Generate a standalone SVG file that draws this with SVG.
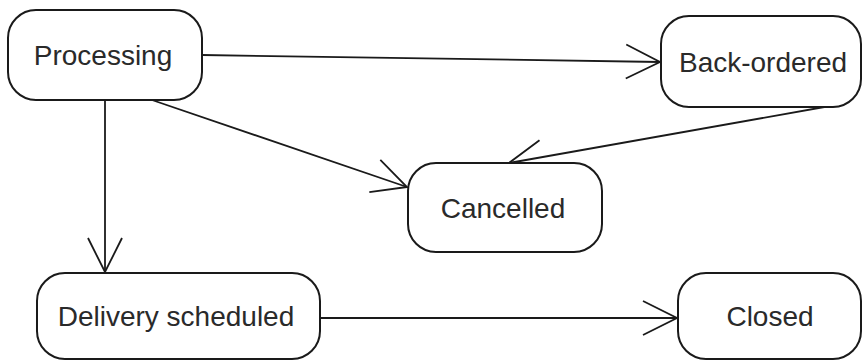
<svg xmlns="http://www.w3.org/2000/svg" width="863" height="361" viewBox="0 0 863 361">
  <style>
    .state rect { fill: #ffffff; stroke: #1a1a1a; stroke-width: 2; }
    .state text { font-family: "Liberation Sans", Arial, sans-serif; font-size: 28px; fill: #2a2a2a; text-anchor: middle; }
    .conn { fill: none; stroke: #1a1a1a; stroke-width: 1.8; marker-end: url(#open); }
  </style>
  <defs>
    <marker id="open" markerUnits="userSpaceOnUse" viewBox="-36 -20 38 40" markerWidth="38" markerHeight="40" refX="0" refY="0" orient="auto" overflow="visible">
      <path d="M -34 -17 L 0 0 L -34 17" fill="none" stroke="#1a1a1a" stroke-width="1.8"/>
    </marker>
  </defs>
  <rect x="0" y="0" width="863" height="361" fill="#ffffff"/>
  <g id="connectors">
    <path class="conn" d="M 202 55 L 660 62"/>
    <path class="conn" d="M 105 100 L 105 272"/>
    <path class="conn" d="M 152 100 L 407 187"/>
    <path class="conn" d="M 830 106 L 509 163"/>
    <path class="conn" d="M 320 318 L 677 318"/>
  </g>
  <g id="processing" class="state">
    <rect x="8" y="10" width="194" height="90" rx="28" ry="28"/>
    <text x="103" y="65">Processing</text>
  </g>
  <g id="back-ordered" class="state">
    <rect x="661" y="16" width="200" height="91" rx="28" ry="28"/>
    <text x="763" y="72">Back-ordered</text>
  </g>
  <g id="cancelled" class="state">
    <rect x="408" y="163" width="194" height="89" rx="28" ry="28"/>
    <text x="503" y="218">Cancelled</text>
  </g>
  <g id="delivery-scheduled" class="state">
    <rect x="37" y="273" width="283" height="86" rx="28" ry="28"/>
    <text x="176" y="326">Delivery scheduled</text>
  </g>
  <g id="closed" class="state">
    <rect x="678" y="273" width="183" height="86" rx="28" ry="28"/>
    <text x="770" y="326">Closed</text>
  </g>
</svg>
